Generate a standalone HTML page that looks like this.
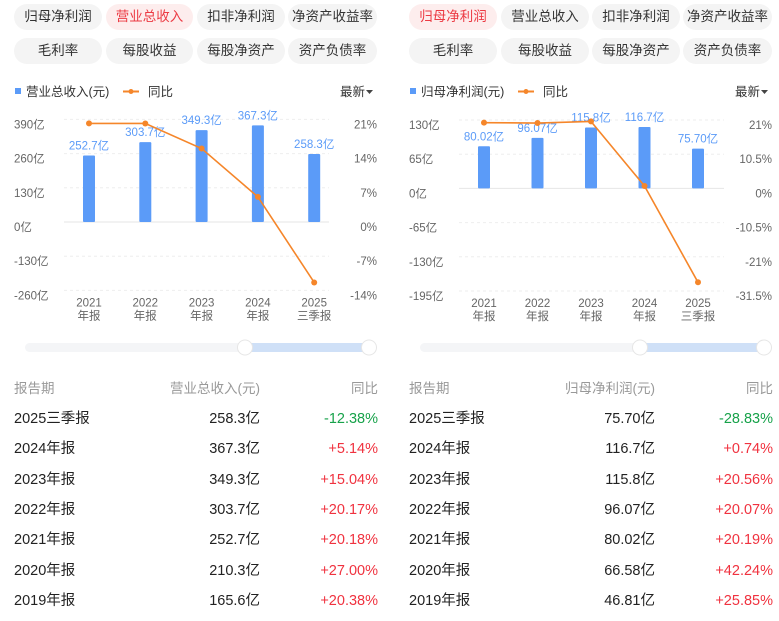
<!DOCTYPE html>
<html><head><meta charset="utf-8">
<style>
body{margin:0;width:779px;height:621px;background:#fff;overflow:hidden;font-family:"Liberation Sans","Noto Sans CJK SC",sans-serif;position:relative}
.pill{position:absolute;height:26px;line-height:26px;border-radius:13px;background:#f4f4f4;color:#333;font-size:13.5px;text-align:center}
.pill.on{background:#fdeded;color:#ec3a43}
.t{position:absolute;font-size:14.5px;color:#222;white-space:nowrap;line-height:18px}
.h{color:#999;font-size:13.5px}
.r{text-align:right}
.red{color:#f0323f}.green{color:#17a24a}
svg{position:absolute;left:0;top:0}
</style></head><body>
<div>
<div class="pill" style="left:14px;top:4px;width:88px">归母净利润</div>
<div class="pill on" style="left:106px;top:4px;width:87px">营业总收入</div>
<div class="pill" style="left:197px;top:4px;width:88px">扣非净利润</div>
<div class="pill" style="left:288px;top:4px;width:89px">净资产收益率</div>
<div class="pill" style="left:14px;top:38px;width:88px">毛利率</div>
<div class="pill" style="left:106px;top:38px;width:87px">每股收益</div>
<div class="pill" style="left:197px;top:38px;width:88px">每股净资产</div>
<div class="pill" style="left:288px;top:38px;width:89px">资产负债率</div>
</div>
<div>
<div class="pill on" style="left:409px;top:4px;width:88px">归母净利润</div>
<div class="pill" style="left:501px;top:4px;width:88px">营业总收入</div>
<div class="pill" style="left:592px;top:4px;width:88px">扣非净利润</div>
<div class="pill" style="left:683px;top:4px;width:89px">净资产收益率</div>
<div class="pill" style="left:409px;top:38px;width:88px">毛利率</div>
<div class="pill" style="left:501px;top:38px;width:88px">每股收益</div>
<div class="pill" style="left:592px;top:38px;width:88px">每股净资产</div>
<div class="pill" style="left:683px;top:38px;width:89px">资产负债率</div>
</div>
<svg id="chart" width="779" height="370"></svg>
<div id="tables"></div>
<script>
const categories=["2021","2022","2023","2024","2025"];
const catSub=["年报","年报","年报","年报","三季报"];
const revValues=[252.7,303.7,349.3,367.3,258.3];
const revLabels=["252.7亿","303.7亿","349.3亿","367.3亿","258.3亿"];
const revYoy=[20.18,20.17,15.04,5.14,-12.38];
const revTicks=["390亿","260亿","130亿","0亿","-130亿","-260亿"];
const revTickVals=[390,260,130,0,-130,-260];
const revPctTicks=["21%","14%","7%","0%","-7%","-14%"];
const revPctVals=[21,14,7,0,-7,-14];
const npValues=[80.02,96.07,115.8,116.7,75.70];
const npLabels=["80.02亿","96.07亿","115.8亿","116.7亿","75.70亿"];
const npYoy=[20.19,20.07,20.56,0.74,-28.83];
const npTicks=["130亿","65亿","0亿","-65亿","-130亿","-195亿"];
const npTickVals=[130,65,0,-65,-130,-195];
const npPctTicks=["21%","10.5%","0%","-10.5%","-21%","-31.5%"];
const npPctVals=[21,10.5,0,-10.5,-21,-31.5];
const revPeriods=["2025三季报","2024年报","2023年报","2022年报","2021年报","2020年报","2019年报"];
const revTableVals=["258.3亿","367.3亿","349.3亿","303.7亿","252.7亿","210.3亿","165.6亿"];
const revTableYoy=[-12.38,5.14,15.04,20.17,20.18,27.00,20.38];
const npTableVals=["75.70亿","116.7亿","115.8亿","96.07亿","80.02亿","66.58亿","46.81亿"];
const npTableYoy=[-28.83,0.74,20.56,20.07,20.19,42.24,25.85];

const svg=document.getElementById('chart');
const NS='http://www.w3.org/2000/svg';
function mk(tag,attrs,txt){const e=document.createElementNS(NS,tag);for(const k in attrs)e.setAttribute(k,attrs[k]);if(txt!==undefined)e.textContent=txt;svg.appendChild(e);return e;}
function drawChart(o){
  const top=o.top, bot=top+171;
  const yL=v=>top+(o.tickVals[0]-v)/(o.tickVals[0]-o.tickVals[5])*(bot-top);
  const yR=v=>top+(o.pctVals[0]-v)/(o.pctVals[0]-o.pctVals[5])*(bot-top);
  const xC=i=>o.x0+i*o.step;
  // legend
  let e=mk('rect',{x:o.ox+1,y:88,width:6,height:6,fill:'#5b9bf8'});
  
  e=mk('text',{x:o.ox+12,y:96,'font-size':12.5,fill:'#333'},o.legend);
  
  e=mk('line',{x1:o.ox+109,y1:91.5,x2:o.ox+125,y2:91.5,stroke:'#f5862a','stroke-width':2});
  
  mk('circle',{cx:o.ox+117,cy:91.5,r:2.5,fill:'#f5862a'});
  e=mk('text',{x:o.ox+134,y:96,'font-size':12.5,fill:'#333'},'同比');
  
  e=mk('text',{x:o.ox+326,y:96,'font-size':12.5,fill:'#333'},'最新');
  
  mk('path',{d:`M${o.ox+352} 90 l7 0 l-3.5 4z`,fill:'#444'});
  // grid & ticks
  o.tickVals.forEach((v,i)=>{
    const y=yL(v);
    const g=mk('line',{x1:o.ox+50,x2:o.ox+315,y1:y,y2:y,stroke:v===0?'#e6e6e6':'#eeeeee','stroke-dasharray':v===0?'':'3,3'});
    
    const t=mk('text',{x:o.ox,y:y+9,'font-size':11.5,fill:'#666'},o.ticks[i]);
    
    const t2=mk('text',{x:o.ox+363,y:y+9,'font-size':11.5,fill:'#666','text-anchor':'end'},o.pctTicks[i]);
    
  });
  // bars
  o.values.forEach((v,i)=>{
    const y=yL(v),y0=yL(0);
    const b=mk('rect',{x:xC(i)-6,y:y,width:12,height:y0-y,fill:'#5b9bf8',rx:1});
    
    const l=mk('text',{x:xC(i),y:y-6,'font-size':11.5,fill:'#5b9bf8','text-anchor':'middle'},o.labels[i]);
    
    const c=mk('text',{x:xC(i),y:bot+16,'font-size':11.5,fill:'#666','text-anchor':'middle'},categories[i]);
    
    mk('text',{x:xC(i),y:bot+29,'font-size':11.5,fill:'#666','text-anchor':'middle'},catSub[i]);
  });
  // line
  const pts=o.yoy.map((v,i)=>xC(i)+','+yR(v)).join(' ');
  const pl=mk('polyline',{points:pts,fill:'none',stroke:'#f5862a','stroke-width':1.6});
  
  o.yoy.forEach((v,i)=>{
    const c=mk('circle',{cx:xC(i),cy:yR(v),r:3,fill:'#f5862a'});
    
  });
  // slider
  const s=mk('rect',{x:o.ox+11,y:343,width:352,height:9,rx:4.5,fill:'#f4f5f7'});
  
  const f=mk('rect',{x:o.ox+231,y:343,width:124,height:9,fill:'#cfe0f7'});
  
  [o.ox+231,o.ox+355].forEach(x=>{
    const h=mk('circle',{cx:x,cy:347.5,r:7.5,fill:'#fff',stroke:'#e6e6e6'});
    
  });
}
drawChart({ox:14,top:119.4,x0:89,step:56.3,legend:'营业总收入(元)',values:revValues,labels:revLabels,yoy:revYoy,ticks:revTicks,tickVals:revTickVals,pctTicks:revPctTicks,pctVals:revPctVals});
drawChart({ox:409,top:120,x0:484,step:53.5,legend:'归母净利润(元)',values:npValues,labels:npLabels,yoy:npYoy,ticks:npTicks,tickVals:npTickVals,pctTicks:npPctTicks,pctVals:npPctVals});

const tb=document.getElementById('tables');
function addT(txt,left,top,cls,right,name){
  const d=document.createElement('div');
  d.className='t '+cls;d.textContent=txt;d.style.top=top+'px';
  if(right){d.style.right=(779-left)+'px';}else d.style.left=left+'px';
  
  
  tb.appendChild(d);
}
function table(ox,valRight,head,vals,yoy){
  addT('报告期',ox,380,'h',false,'table-header-period');
  addT(head,valRight,380,'h',true,'table-header-value');
  addT('同比',ox+364,380,'h',true,'table-header-yoy');
  revPeriods.forEach((p,i)=>{
    const y=410+i*30.3;
    addT(p,ox,y,'',false,'table-period');
    addT(vals[i],valRight,y,'',true,'table-value');
    const v=yoy[i];
    addT((v>=0?'+':'')+v.toFixed(2)+'%',ox+364,y,v>=0?'red':'green',true,'table-yoy');
  });
}
table(14,260,'营业总收入(元)',revTableVals,revTableYoy);
table(409,655,'归母净利润(元)',npTableVals,npTableYoy);
</script>
</body></html>
